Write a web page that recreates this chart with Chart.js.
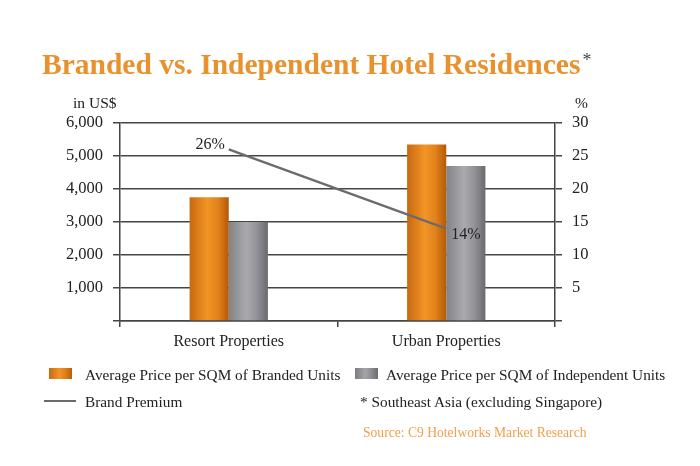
<!DOCTYPE html>
<html>
<head>
<meta charset="utf-8">
<script src="https://cdn.jsdelivr.net/npm/chart.js@4.4.1/dist/chart.umd.min.js"></script>
<style>
    body { margin: 0; background: #fff; font-family: "Liberation Serif", "Times New Roman", serif; color: #222; }
    #wrap { position: relative; width: 700px; height: 466px; overflow: hidden; }
    #chart { position: absolute; left: 0; top: 0; }
    .abs { position: absolute; white-space: nowrap; line-height: 1; }
    #title { left: 42px; top: 50px; font-size: 29.5px; font-weight: bold; color: #E8912D; }
    #title sup { color: #444; font-size: 18px; font-weight: normal; vertical-align: 8px; margin-left: 2px; }
    .unit { font-size: 15.5px; top: 95px; }
    .legend { font-size: 15.3px; }
    .swatch { position: absolute; width: 23px; height: 11px; }
    .sw-orange { background: linear-gradient(to right, #c8690f, #f19426 45%, #e0801a 70%, #b85e0a); }
    .sw-gray { background: linear-gradient(to right, #7e7e82, #a4a4a8 45%, #8e8e92 70%, #6c6c70); }
    .lineswatch { position: absolute; width: 32px; height: 2px; background: #6b6b6b; }
    #source { left: 363px; top: 426px; font-size: 13.6px; color: #F0A04B; }
</style>
</head>
<body>
<div id="wrap">
    <canvas id="chart" width="700" height="466"></canvas>
    <div class="abs" id="title">Branded vs. Independent Hotel Residences<sup>*</sup></div>
    <div class="abs unit" style="left:73px;">in US$</div>
    <div class="abs unit" style="left:575px;">%</div>

    <div class="swatch sw-orange" style="left:49px; top:368px;"></div>
    <div class="abs legend" style="left:85px; top:367px;">Average Price per SQM of Branded Units</div>
    <div class="swatch sw-gray" style="left:355px; top:368px;"></div>
    <div class="abs legend" style="left:386px; top:367px;">Average Price per SQM of Independent Units</div>
    <div class="lineswatch" style="left:44px; top:400px;"></div>
    <div class="abs legend" style="left:85px; top:394px;">Brand Premium</div>
    <div class="abs legend" style="left:360px; top:394px;">* Southeast Asia (excluding Singapore)</div>
    <div class="abs" id="source">Source: C9 Hotelworks Market Research</div>
</div>

<script>
// chart data
const categories = ['Resort Properties', 'Urban Properties'];
const brandedPrice = [3750, 5350];
const independentPrice = [3000, 4700];
const brandPremium = [26, 14];
const priceTicks = [0, 1000, 2000, 3000, 4000, 5000, 6000];
const percentTicks = [0, 5, 10, 15, 20, 25, 30];

const BAR_SHARE = 0.36;
const GRID = '#454545';
const SERIF = '"Liberation Serif", "Times New Roman", serif';

// horizontal gradient for each bar, worked out from the category scale
function barFill(context, stops) {
    const chart = context.chart;
    const xs = chart.scales && chart.scales.x;
    if (!xs || !xs.width || context.dataIndex === undefined) return stops[1][1];
    const center = xs.getPixelForValue(context.dataIndex);
    const w = xs.width / categories.length * BAR_SHARE / 2;
    const left = context.datasetIndex === 1 ? center - w : center;
    const g = chart.ctx.createLinearGradient(left, 0, left + w, 0);
    stops.forEach(s => g.addColorStop(s[0], s[1]));
    return g;
}

const orangeStops = [[0, '#c8690f'], [0.45, '#f29526'], [0.72, '#e2821b'], [1, '#b25a08']];
const grayStops = [[0, '#838387'], [0.45, '#aaaaae'], [0.72, '#939397'], [1, '#6a6a6e']];

// percent labels next to the premium line
const premiumLabels = {
    id: 'premiumLabels',
    afterDatasetsDraw(chart) {
        const meta = chart.getDatasetMeta(0);
        const ctx = chart.ctx;
        ctx.save();
        ctx.font = '16px ' + SERIF;
        ctx.fillStyle = '#222';
        ctx.textBaseline = 'middle';
        meta.data.forEach((pt, i) => {
            const txt = brandPremium[i] + '%';
            if (i === 0) {
                ctx.textAlign = 'right';
                ctx.fillText(txt, pt.x - 4, pt.y - 5);
            } else {
                ctx.textAlign = 'left';
                ctx.fillText(txt, pt.x + 5, pt.y + 6);
            }
        });
        ctx.restore();
    }
};

new Chart(document.getElementById('chart'), {
    data: {
        labels: categories,
        datasets: [
            {
                type: 'line',
                label: 'Brand Premium',
                data: brandPremium,
                yAxisID: 'y1',
                borderColor: '#6b6b6b',
                borderWidth: 2.3,
                pointRadius: 0,
                order: 0
            },
            {
                type: 'bar',
                label: 'Average Price per SQM of Branded Units',
                data: brandedPrice,
                yAxisID: 'y',
                backgroundColor: c => barFill(c, orangeStops),
                categoryPercentage: BAR_SHARE,
                barPercentage: 1,
                order: 1
            },
            {
                type: 'bar',
                label: 'Average Price per SQM of Independent Units',
                data: independentPrice,
                yAxisID: 'y',
                backgroundColor: c => barFill(c, grayStops),
                categoryPercentage: BAR_SHARE,
                barPercentage: 1,
                order: 1
            }
        ]
    },
    options: {
        responsive: false,
        animation: false,
        layout: { padding: { top: 123, left: 0, right: 0, bottom: 0 } },
        plugins: { legend: { display: false }, tooltip: { enabled: false } },
        scales: {
            x: {
                offset: true,
                afterFit: s => { s.height = 145; },
                grid: { drawOnChartArea: false, drawTicks: true, tickLength: 6, color: GRID, lineWidth: 1.5 },
                border: { color: GRID, width: 1.5 },
                ticks: { padding: 5, color: '#222', font: { family: SERIF, size: 16 } }
            },
            y: {
                position: 'left',
                min: priceTicks[0],
                max: priceTicks[priceTicks.length - 1],
                afterFit: s => { s.width = 120; },
                afterBuildTicks: s => { s.ticks = priceTicks.map(v => ({ value: v })); },
                grid: { color: GRID, lineWidth: 1.5, tickLength: 7 },
                border: { color: GRID, width: 1.5 },
                ticks: {
                    padding: 10,
                    color: '#222',
                    font: { family: SERIF, size: 16.5 },
                    callback: v => v === 0 ? '' : v.toLocaleString('en-US')
                }
            },
            y1: {
                position: 'right',
                min: percentTicks[0],
                max: percentTicks[percentTicks.length - 1],
                afterFit: s => { s.width = 145; },
                afterBuildTicks: s => { s.ticks = percentTicks.map(v => ({ value: v })); },
                grid: { drawOnChartArea: false, color: GRID, lineWidth: 1.5, tickLength: 7 },
                border: { color: GRID, width: 1.5 },
                ticks: {
                    padding: 10,
                    color: '#222',
                    font: { family: SERIF, size: 16.5 },
                    callback: v => v === 0 ? '' : v
                }
            }
        }
    },
    plugins: [premiumLabels]
});
</script>
</body>
</html>
